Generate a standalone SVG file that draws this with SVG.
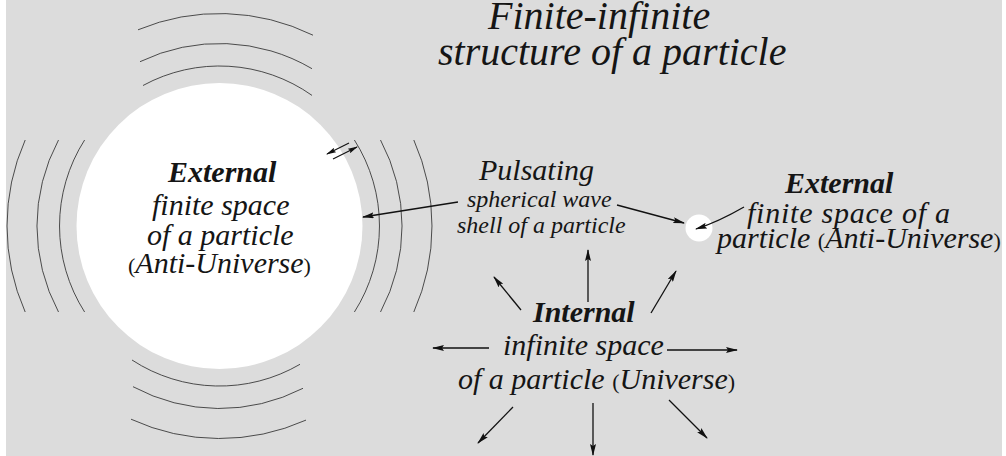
<svg xmlns="http://www.w3.org/2000/svg" width="1006" height="456" viewBox="0 0 1006 456">
  <style>
    .t { font-family: "Liberation Serif", "Times New Roman", serif; font-style: italic; fill: #151515; }
    .b { font-weight: bold; }
    .p { font-style: normal; font-size: 22px; }
    .wave { fill: none; stroke: #3a3a3a; stroke-width: 0.9; }
    .arr { fill: none; stroke: #111; stroke-width: 1.3; marker-end: url(#ah); }
    .arr2 { fill: none; stroke: #111; stroke-width: 1.1; marker-end: url(#ahs); }
  </style>
  <defs>
    <marker id="ah" viewBox="0 0 12 6" refX="11" refY="3" markerWidth="12" markerHeight="6" markerUnits="userSpaceOnUse" orient="auto">
      <path d="M0,0 L12,3 L0,6 L2,3 z" fill="#111"/>
    </marker>
    <marker id="ahs" viewBox="0 0 10 5" refX="9" refY="2.5" markerWidth="10" markerHeight="5" markerUnits="userSpaceOnUse" orient="auto">
      <path d="M0,0 L10,2.5 L0,5 L1.5,2.5 z" fill="#111"/>
    </marker>
  </defs>

  <rect x="6" y="0" width="996" height="456" fill="#dcdcdc"/>

  <g id="title" class="t" font-size="40">
    <text x="488" y="29">Finite-infinite</text>
    <text x="438" y="65">structure of a particle</text>
  </g>

  <g id="waves">
    <path class="wave" d="M138,29.8 A212.5,212.5 0 0 1 313,35.2"/>
    <path class="wave" d="M140,61.7 A182.5,182.5 0 0 1 312,68.7"/>
    <path class="wave" d="M143,85.5 A160,160 0 0 1 312,95.4"/>
    <path class="wave" d="M132,360 A160,160 0 0 0 300,364.3"/>
    <path class="wave" d="M133,386.7 A182.5,182.5 0 0 0 303,388.3"/>
    <path class="wave" d="M131,419.2 A212.5,212.5 0 0 0 306,420.1"/>
    <path class="wave" d="M84.6,140 A160,160 0 0 0 84.6,312"/>
    <path class="wave" d="M58.5,140 A182.5,182.5 0 0 0 58.5,312"/>
    <path class="wave" d="M25.2,140 A212.5,212.5 0 0 0 25.2,312"/>
    <path class="wave" d="M354.4,140 A160,160 0 0 1 354.4,312"/>
    <path class="wave" d="M380.5,140 A182.5,182.5 0 0 1 380.5,312"/>
    <path class="wave" d="M413.8,140 A212.5,212.5 0 0 1 413.8,312"/>
  </g>

  <g id="external-big">
    <circle cx="219.5" cy="226" r="143" fill="#ffffff"/>
    <g class="t" font-size="30">
      <text x="168" y="182" class="b">External</text>
      <text x="152" y="215">finite space</text>
      <text x="147" y="245">of a particle</text>
      <text x="128" y="273"><tspan class="p">(</tspan>Anti-Universe<tspan class="p">)</tspan></text>
    </g>
  </g>

  <g id="external-small">
    <circle cx="699" cy="228" r="13.5" fill="#ffffff"/>
    <g class="t" font-size="30">
      <text x="785" y="193" class="b">External</text>
      <text x="747" y="223" textLength="203" lengthAdjust="spacing">finite space of a</text>
      <text x="717" y="248">particle <tspan class="p">(</tspan>Anti-Universe<tspan class="p">)</tspan></text>
    </g>
  </g>

  <g id="shell" class="t">
    <text x="479" y="180" font-size="30">Pulsating</text>
    <text x="467" y="207" font-size="24">spherical wave</text>
    <text x="457" y="233" font-size="24">shell of a particle</text>
  </g>

  <g id="internal" class="t" font-size="30">
    <text x="533" y="322" class="b">Internal</text>
    <text x="503" y="355">infinite space</text>
    <text x="458" y="389">of a particle <tspan class="p">(</tspan>Universe<tspan class="p">)</tspan></text>
  </g>

  <g id="connectors">
    <path class="arr2" d="M349,143 L327,154"/>
    <path class="arr2" d="M333,159 L357,147"/>
    <path class="arr" d="M458,202 L363,217"/>
    <path class="arr" d="M617,205 L684,223"/>
    <path class="arr" d="M744,207 Q718,222 696,229"/>
    <path class="arr" d="M588,302 L588,250"/>
    <path class="arr" d="M521,310 L494,277"/>
    <path class="arr" d="M651,313 L676,271"/>
    <path class="arr" d="M489,348 L433,348"/>
    <path class="arr" d="M667,350 L737,350"/>
    <path class="arr" d="M513,407 L478,443"/>
    <path class="arr" d="M593,403 L593,455"/>
    <path class="arr" d="M669,400 L707,438"/>
  </g>
</svg>
